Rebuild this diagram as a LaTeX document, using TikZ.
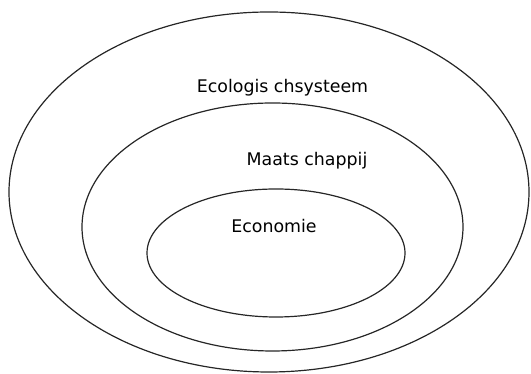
\documentclass[tikz,border=0pt]{standalone}
\usepackage{fontspec}
\setmainfont{DejaVu Sans}
\usetikzlibrary{shapes.geometric}
\begin{document}
\begin{tikzpicture}[x=1pt,y=1pt,
  ring/.style={ellipse, draw=black!85, line width=1.2pt, inner sep=0pt, outer sep=0pt},
  lbl/.style={anchor=base, inner sep=0pt, font=\fontsize{17.4}{20}\selectfont, text=black}]
\useasboundingbox (0,0) rectangle (531,374);
\node[ring, minimum width=520pt, minimum height=360pt] (eco) at (269,182) {};
\node[ring, minimum width=381pt, minimum height=248pt] (maat) at (272.5,147) {};
\node[ring, minimum width=258pt, minimum height=128pt] (econ) at (276,121) {};
\node[lbl] (teco) at (282.5,281.5) {Ecologis chsysteem};
\node[lbl] (tmaat) at (307,208) {Maats chappij};
\node[lbl] (tecon) at (274,141.7) {Economie};
\end{tikzpicture}
\end{document}
